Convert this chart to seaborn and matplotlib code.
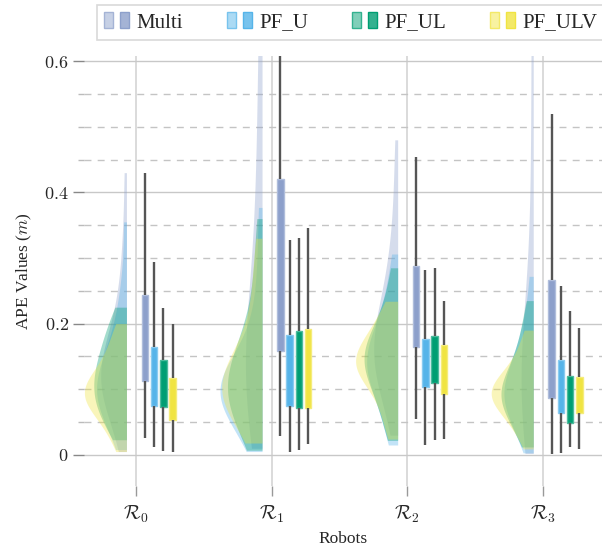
import numpy as np
import pandas as pd
import matplotlib
matplotlib.use("Agg")
import matplotlib.pyplot as plt
import matplotlib.colors as mcolors
import seaborn as sns
from matplotlib.patches import Patch
from matplotlib.legend_handler import HandlerTuple
from matplotlib.ticker import FixedLocator, MultipleLocator, FixedFormatter

robots = [r"$\mathcal{R}_0$", r"$\mathcal{R}_1$", r"$\mathcal{R}_2$", r"$\mathcal{R}_3$"]
methods = ["Multi", "PF_U", "PF_UL", "PF_ULV"]
colors = ["#8da0cb", "#56b4e9", "#009e73", "#f0e442"]

# Box summaries per robot: (lower whisker, q1, median, q3, upper whisker)
box_multi = [(0.025, 0.112, 0.170, 0.244, 0.429),
             (0.029, 0.158, 0.250, 0.420, 0.640),
             (0.055, 0.165, 0.220, 0.288, 0.454),
             (0.001, 0.087, 0.160, 0.266, 0.519)]
box_pf_u = [(0.012, 0.075, 0.076, 0.164, 0.294),
            (0.005, 0.074, 0.120, 0.182, 0.328),
            (0.015, 0.104, 0.140, 0.177, 0.282),
            (0.003, 0.063, 0.100, 0.144, 0.258)]
box_pf_ul = [(0.006, 0.073, 0.105, 0.144, 0.224),
             (0.007, 0.072, 0.120, 0.188, 0.330),
             (0.022, 0.110, 0.145, 0.181, 0.284),
             (0.012, 0.048, 0.085, 0.120, 0.219)]
box_pf_ulv = [(0.005, 0.053, 0.085, 0.117, 0.200),
              (0.016, 0.071, 0.120, 0.191, 0.345),
              (0.024, 0.093, 0.130, 0.167, 0.234),
              (0.009, 0.063, 0.090, 0.119, 0.193)]

# Per-robot error samples for the density clouds
samples_multi = [
    [0.005, 0.035, 0.055, 0.07, 0.08, 0.09, 0.10, 0.105, 0.11, 0.115, 0.12, 0.125,
     0.13, 0.14, 0.15, 0.16, 0.17, 0.185, 0.20, 0.22, 0.25, 0.29, 0.34, 0.43],
    [0.01, 0.04, 0.06, 0.075, 0.09, 0.10, 0.11, 0.12, 0.13, 0.14, 0.155, 0.17,
     0.19, 0.21, 0.24, 0.27, 0.31, 0.35, 0.40, 0.45, 0.51, 0.58, 0.66, 0.75],
    [0.03, 0.07, 0.09, 0.11, 0.12, 0.13, 0.14, 0.145, 0.15, 0.16, 0.17, 0.18,
     0.19, 0.20, 0.215, 0.23, 0.25, 0.27, 0.30, 0.34, 0.40, 0.48],
    [0.002, 0.03, 0.05, 0.065, 0.075, 0.085, 0.09, 0.095, 0.10, 0.11, 0.12, 0.13,
     0.14, 0.155, 0.17, 0.19, 0.22, 0.27, 0.33, 0.40, 0.48, 0.57, 0.67, 0.76],
]
samples_pf_u = [
    [0.008, 0.03, 0.045, 0.06, 0.07, 0.08, 0.085, 0.09, 0.095, 0.10, 0.105, 0.11,
     0.12, 0.13, 0.14, 0.15, 0.165, 0.18, 0.20, 0.23, 0.27, 0.355],
    [0.005, 0.02, 0.035, 0.05, 0.06, 0.07, 0.08, 0.085, 0.09, 0.095, 0.10, 0.10,
     0.105, 0.11, 0.115, 0.12, 0.13, 0.14, 0.155, 0.175, 0.20, 0.24, 0.30, 0.377],
    [0.015, 0.04, 0.065, 0.085, 0.10, 0.115, 0.125, 0.135, 0.14, 0.145, 0.155, 0.165,
     0.175, 0.19, 0.21, 0.23, 0.26, 0.306],
    [0.003, 0.025, 0.04, 0.055, 0.065, 0.075, 0.085, 0.09, 0.095, 0.10, 0.105, 0.115,
     0.125, 0.14, 0.155, 0.17, 0.19, 0.215, 0.272],
]
samples_pf_ul = [
    [0.023, 0.04, 0.055, 0.065, 0.075, 0.085, 0.095, 0.10, 0.11, 0.12, 0.13, 0.14,
     0.15, 0.16, 0.175, 0.19, 0.205, 0.225],
    [0.007, 0.025, 0.045, 0.06, 0.075, 0.085, 0.095, 0.10, 0.105, 0.115, 0.125, 0.135,
     0.15, 0.165, 0.185, 0.21, 0.25, 0.30, 0.36],
    [0.022, 0.045, 0.07, 0.09, 0.105, 0.12, 0.13, 0.14, 0.145, 0.15, 0.16, 0.17,
     0.18, 0.195, 0.215, 0.245, 0.285],
    [0.012, 0.03, 0.045, 0.06, 0.07, 0.08, 0.085, 0.09, 0.095, 0.10, 0.11, 0.12,
     0.13, 0.145, 0.16, 0.18, 0.205, 0.235],
]
samples_pf_ulv = [
    [0.005, 0.03, 0.045, 0.06, 0.07, 0.075, 0.085, 0.09, 0.095, 0.10, 0.105, 0.11,
     0.12, 0.13, 0.145, 0.16, 0.18, 0.20],
    [0.018, 0.04, 0.055, 0.07, 0.08, 0.09, 0.095, 0.10, 0.105, 0.11, 0.12, 0.13,
     0.14, 0.155, 0.175, 0.20, 0.24, 0.28, 0.33],
    [0.024, 0.05, 0.075, 0.095, 0.11, 0.12, 0.13, 0.135, 0.14, 0.145, 0.15, 0.16,
     0.17, 0.18, 0.195, 0.21, 0.234],
    [0.009, 0.035, 0.05, 0.06, 0.07, 0.08, 0.085, 0.09, 0.095, 0.10, 0.105, 0.11,
     0.12, 0.13, 0.145, 0.165, 0.19],
]

box_stats = [box_multi, box_pf_u, box_pf_ul, box_pf_ulv]
cloud_samples = [samples_multi, samples_pf_u, samples_pf_ul, samples_pf_ulv]

sns.set_theme(style="white")
plt.rcParams["font.family"] = ["Liberation Serif", "DejaVu Serif"]
plt.rcParams["mathtext.fontset"] = "cm"

fig = plt.figure(figsize=(6.02, 5.50), dpi=100)
ax = fig.add_axes([84 / 602, 1 - 486 / 550, 1 - 84 / 602, (486 - 55.5) / 550])

CLOUD_SHIFT = -0.07
BOX_SHIFT = 0.168
CLOUD_ALPHA = 0.36

# Density clouds: the four methods overlaid per robot (area-scaled together
# within each robot), then cut down to their left half
n0 = len(ax.collections)
for i in range(len(robots)):
    rows = [(i + CLOUD_SHIFT, method, v)
            for method, per_robot in zip(methods, cloud_samples)
            for v in per_robot[i]]
    dfc = pd.DataFrame(rows, columns=["pos", "method", "value"])
    sns.violinplot(data=dfc, x="pos", y="value", hue="method", hue_order=methods,
                   palette=colors, native_scale=True, dodge=False, cut=0, inner=None,
                   saturation=1, linewidth=0, density_norm="area", common_norm=True,
                   width=0.62, alpha=CLOUD_ALPHA, legend=False, ax=ax)
for coll in ax.collections[n0:]:
    half = []
    for path in coll.get_paths():
        v = np.array(path.vertices, dtype=float)
        if len(v):
            center = 0.5 * (v[:, 0].min() + v[:, 0].max())
            v[:, 0] = np.minimum(v[:, 0], center)
        half.append(v)
    coll.set_verts(half)

# Box plots to the right of each robot
rows = []
for method, stats in zip(methods, box_stats):
    for i, st in enumerate(stats):
        for v in st:
            rows.append((i + BOX_SHIFT, method, v))
dfb = pd.DataFrame(rows, columns=["pos", "method", "value"])
n_before = len(ax.patches)
sns.boxplot(data=dfb, x="pos", y="value", hue="method", hue_order=methods,
            palette=colors, native_scale=True, dodge=True, width=0.272, gap=0.3,
            whis=np.inf, showcaps=False, fliersize=0, saturation=1, linewidth=1.0,
            whiskerprops=dict(color="#555555", linewidth=1.7),
            medianprops=dict(linewidth=0), legend=False, ax=ax)
for p in ax.patches[n_before:]:
    fc = np.array(mcolors.to_rgb(p.get_facecolor()))
    p.set_edgecolor(fc + (1 - fc) * 0.3)
    p.set_linewidth(1.0)

# Axes, ticks and grid
ax.set_xlim(-0.383, 3.437)
ax.set_ylim(-0.0475, 0.6085)
ax.set_xticks(range(len(robots)))
ax.set_xticklabels(robots, fontsize=14)
ax.yaxis.set_major_locator(FixedLocator([0, 0.2, 0.4, 0.6]))
ax.yaxis.set_major_formatter(FixedFormatter(["$0$", "$0.2$", "$0.4$", "$0.6$"]))
ax.yaxis.set_minor_locator(MultipleLocator(0.05))
for s in ax.spines.values():
    s.set_visible(False)
ax.tick_params(axis="y", which="major", direction="out", length=8, width=1,
               color="#888888", labelsize=13, pad=3, left=True)
ax.tick_params(axis="y", which="minor", direction="out", length=4.5, width=1,
               color="#bbbbbb", left=True)
ax.tick_params(axis="x", which="major", direction="out", length=7, width=1,
               color="#999999", pad=6, bottom=True)
ax.grid(False)
ax.grid(True, axis="y", which="major", color="#c8c8c8", linewidth=1)
ax.grid(True, axis="y", which="minor", color="#c4c4c4", linewidth=1,
        linestyle=(0, (5, 4.5)))
ax.grid(True, axis="x", which="major", color="#d4d4d4", linewidth=1.2)
ax.set_axisbelow(True)

ax.set_xlabel("Robots", fontsize=12.5, labelpad=4)
ax.set_ylabel("APE Values ($m$)", fontsize=12.5, labelpad=7)

# Legend: light cloud swatch next to solid box swatch
handles = []
for col in colors:
    c = np.array(mcolors.to_rgb(col))
    light = 1 - (1 - c) * 0.5
    handles.append((Patch(facecolor=light, edgecolor=1 - (1 - c) * 0.8, linewidth=1),
                    Patch(facecolor=1 - (1 - c) * 0.8, edgecolor=c, linewidth=1)))
leg = fig.legend(handles, methods, handler_map={tuple: HandlerTuple(ndivide=None, pad=0.35)},
                 loc="upper left", bbox_to_anchor=(97 / 602, 1 - 5 / 550),
                 bbox_transform=fig.transFigure, ncol=4, fontsize=15, frameon=True,
                 fancybox=False, edgecolor="#d0d0d0", handlelength=1.2, handleheight=0.8,
                 handletextpad=0.35, columnspacing=2.1, borderpad=0.35, borderaxespad=0)
leg.get_frame().set_linewidth(1.2)

fig.savefig("out.png", dpi=100)
